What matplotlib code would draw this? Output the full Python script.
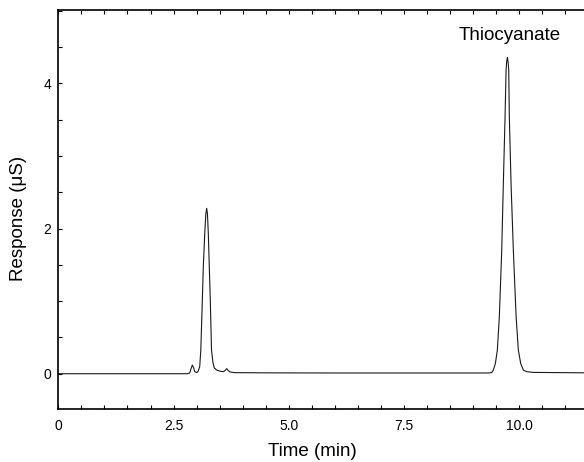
import matplotlib
matplotlib.use("Agg")
import matplotlib.pyplot as plt
from matplotlib.ticker import MultipleLocator, FixedLocator, FixedFormatter

plt.rcParams['font.family'] = ['Liberation Sans', 'DejaVu Sans']

# Chromatogram trace (time in min, response in µS)
time_min = [0.00, 1.00, 2.00, 2.80, 2.85, 2.88, 2.907, 2.93, 2.96, 3.00, 3.03,
            3.067, 3.091, 3.124, 3.145, 3.176, 3.20, 3.219, 3.235, 3.254, 3.275,
            3.297, 3.323, 3.355, 3.384, 3.436, 3.508, 3.579, 3.62, 3.653, 3.69,
            3.725, 3.82, 4.50, 6.00, 8.00, 9.30, 9.40, 9.436, 9.48, 9.523, 9.566,
            9.618, 9.653, 9.69, 9.712, 9.725, 9.74, 9.755, 9.77, 9.783, 9.82,
            9.87, 9.93, 9.978, 10.03, 10.087, 10.16, 10.30, 11.50]
response_us = [0.000, 0.000, 0.000, 0.000, 0.010, 0.070, 0.120, 0.090, 0.030, 0.015, 0.030,
               0.096, 0.326, 1.010, 1.470, 1.930, 2.200, 2.278, 2.200, 1.930, 1.470,
               1.010, 0.326, 0.150, 0.080, 0.050, 0.035, 0.028, 0.045, 0.070, 0.040,
               0.025, 0.015, 0.012, 0.010, 0.010, 0.010, 0.015, 0.050, 0.140, 0.326, 0.785,
               1.700, 2.620, 3.540, 4.180, 4.300, 4.358, 4.300, 4.180, 3.540, 2.620,
               1.700, 0.785, 0.326, 0.140, 0.050, 0.028, 0.018, 0.012]

x_ticks = [0, 2.5, 5.0, 7.5, 10.0]
x_tick_labels = ["0", "2.5", "5.0", "7.5", "10.0"]
y_ticks = [0, 2, 4]
y_tick_labels = ["0", "2", "4"]
peak_label = "Thiocyanate"
peak_label_pos = (9.78, 4.59)

W, H = 584, 462
fig = plt.figure(figsize=(W / 100, H / 100), dpi=100)
left, right, bottom, top = 58.3, 588.5, 409, 10
ax = fig.add_axes([left / W, (H - bottom) / H, (right - left) / W, (bottom - top) / H])

ax.plot(time_min, response_us, color='#1a1a1a', lw=0.8)

ax.set_xlim(0, 11.5)
ax.set_ylim(-0.486, 5.01)

ax.xaxis.set_major_locator(FixedLocator(x_ticks))
ax.xaxis.set_major_formatter(FixedFormatter(x_tick_labels))
ax.xaxis.set_minor_locator(MultipleLocator(0.5))
ax.yaxis.set_major_locator(FixedLocator(y_ticks))
ax.yaxis.set_major_formatter(FixedFormatter(y_tick_labels))
ax.yaxis.set_minor_locator(MultipleLocator(0.5))

ax.tick_params(which='both', direction='in', top=True, right=False, length=3,
               width=0.8, labelsize=10)
ax.tick_params(axis='x', which='both', pad=7)
ax.tick_params(axis='y', which='both', pad=5)
for s in ['left', 'bottom', 'top']:
    ax.spines[s].set_linewidth(1.2)
ax.spines['right'].set_visible(False)

ax.set_xlabel("Time (min)", fontsize=13.5)
ax.set_ylabel("Response (μS)", fontsize=13.5)
ax.xaxis.set_label_coords((312 - left) / (right - left), -(443 - bottom) / (bottom - top))
ax.yaxis.set_label_coords(-(left - 27) / (right - left), (bottom - 218) / (bottom - top))

ax.text(peak_label_pos[0], peak_label_pos[1], peak_label, ha='center', va='baseline',
        fontsize=13.5)

fig.savefig("out.png", dpi=100)
